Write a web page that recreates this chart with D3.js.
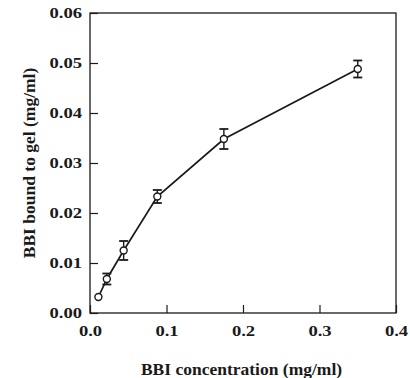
<!DOCTYPE html>
<html><head><meta charset="utf-8">
<script src="https://cdn.jsdelivr.net/npm/d3@7"></script>
<style>body{margin:0;background:#fff}svg{display:block}text{font-family:"Liberation Serif","DejaVu Serif",serif;font-weight:bold;fill:#1a1a1a}</style>
</head><body><svg id="c" width="410" height="378"></svg>
<script>
const concentration = [0.011, 0.022, 0.044, 0.088, 0.175, 0.35];
const bound = [0.0032, 0.0068, 0.0125, 0.0233, 0.0348, 0.0488];
const errors = [0, 0.0011, 0.0019, 0.0013, 0.002, 0.0017];
const xTicks = [0.0, 0.1, 0.2, 0.3, 0.4];
const yTicks = [0.00, 0.01, 0.02, 0.03, 0.04, 0.05, 0.06];

const svg = d3.select("#c");
const m = {l: 90, r: 14, t: 13, b: 65};
const W = 410, H = 378;
const x = d3.scaleLinear().domain([0, 0.4]).range([m.l, W - m.r]);
const y = d3.scaleLinear().domain([0, 0.06]).range([H - m.b, m.t]);
const ink = "#1a1a1a";

// frame
svg.append("rect").attr("x", x(0)).attr("y", y(0.06))
  .attr("width", x(0.4) - x(0)).attr("height", y(0) - y(0.06))
  .attr("fill", "none").attr("stroke", ink).attr("stroke-width", 1.3);

const xa = svg.append("g").attr("transform", `translate(0,${y(0)})`)
  .call(d3.axisBottom(x).tickValues(xTicks).tickFormat(d3.format(".1f")).tickSizeInner(-8).tickSizeOuter(0).tickPadding(12));
const ya = svg.append("g").attr("transform", `translate(${x(0)},0)`)
  .call(d3.axisLeft(y).tickValues(yTicks).tickFormat(d3.format(".2f")).tickSizeInner(-8).tickSizeOuter(0).tickPadding(8));
[xa, ya].forEach(a => {
  a.select(".domain").remove();
  a.selectAll("line").attr("stroke", ink).attr("stroke-width", 1.2);
  a.selectAll("text").style("font-size", "15.5px").style("font-family", '"Liberation Serif",serif').style("font-weight", "bold").attr("fill", ink)
    .each(function() {
      const L = this.getComputedTextLength();
      d3.select(this).attr("textLength", L * 1.2).attr("lengthAdjust", "spacingAndGlyphs");
    });
});

// line
const pts = concentration.map((c, i) => ({x: c, y: bound[i], e: errors[i]}));
svg.append("path").datum(pts)
  .attr("d", d3.line().x(d => x(d.x)).y(d => y(d.y)))
  .attr("fill", "none").attr("stroke", ink).attr("stroke-width", 1.7);

// error bars
const eb = svg.append("g").attr("stroke", ink).attr("stroke-width", 1.4);
pts.filter(d => d.e > 0).forEach(d => {
  eb.append("line").attr("x1", x(d.x)).attr("x2", x(d.x)).attr("y1", y(d.y - d.e)).attr("y2", y(d.y + d.e));
  [d.y - d.e, d.y + d.e].forEach(v => {
    eb.append("line").attr("x1", x(d.x) - 4.5).attr("x2", x(d.x) + 4.5).attr("y1", y(v)).attr("y2", y(v)).attr("stroke-width", 1.8);
  });
});

// markers
svg.append("g").selectAll("circle").data(pts).join("circle")
  .attr("cx", d => x(d.x)).attr("cy", d => y(d.y)).attr("r", 3.5)
  .attr("fill", "#fff").attr("stroke", ink).attr("stroke-width", 1.4);

// titles
svg.append("text").attr("x", 241.5).attr("y", 375).attr("text-anchor", "middle")
  .style("font-size", "17.5px").text("BBI concentration (mg/ml)");
svg.append("text").attr("transform", `translate(35,${(y(0) + y(0.06)) / 2}) rotate(-90)`)
  .attr("text-anchor", "middle").style("font-size", "17.5px").text("BBI bound to gel (mg/ml)");
</script></body></html>
